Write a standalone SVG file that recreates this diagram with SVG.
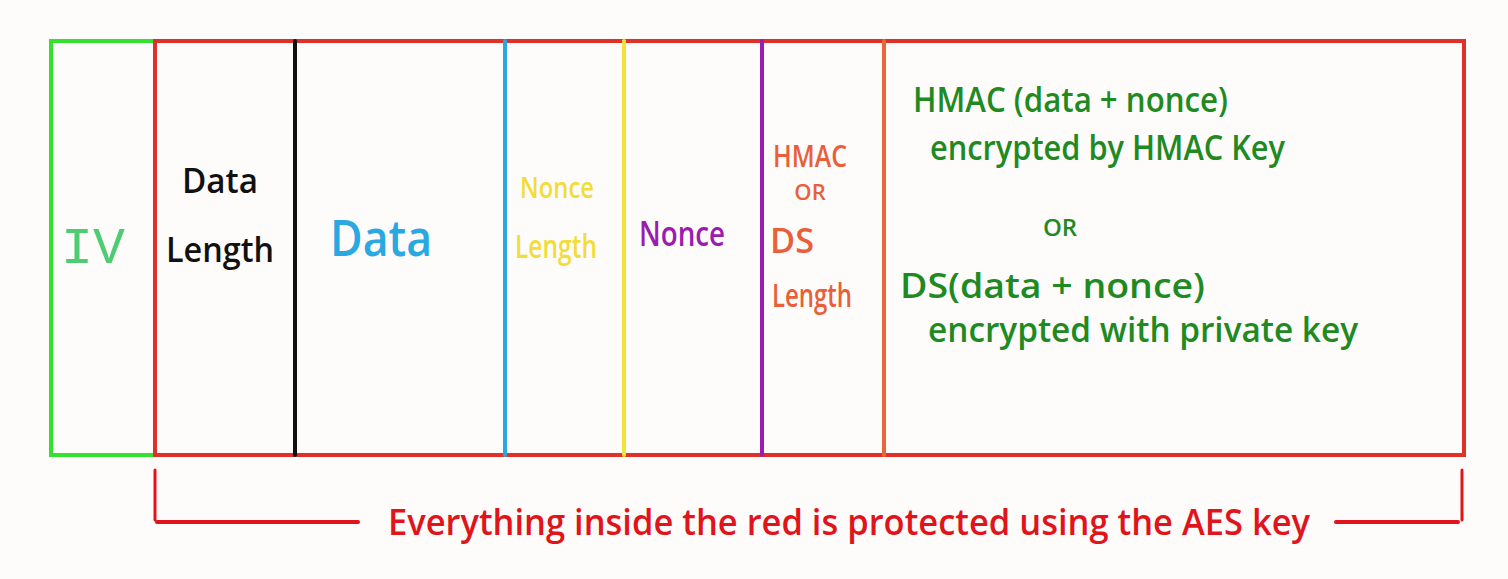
<svg xmlns="http://www.w3.org/2000/svg" width="1508" height="579" viewBox="0 0 1508 579">
<style>
  text { font-family: "Open Sans", "Liberation Sans", sans-serif; font-weight: 600; }
  .ln { stroke-width: 4; fill: none; stroke-linecap: round; }
  .c { text-anchor: middle; }
  .g { fill: #1f8a22; font-size: 34px; }
</style>
<rect x="0" y="0" width="1508" height="579" fill="#fefcfa"/>
<g id="iv">
  <rect class="ln" x="51" y="41" width="104" height="414" stroke="#36e02e"/>
  <text x="93" y="263" class="c" font-size="52" fill="#4dcc72" style="font-family:'Liberation Mono', monospace; font-weight:400" textLength="64" lengthAdjust="spacingAndGlyphs">IV</text>
</g>
<g id="protected">
  <rect class="ln" x="155" y="41" width="1309" height="414" stroke="#e0302a"/>
</g>
<g id="data-length">
  <line class="ln" x1="295" y1="41" x2="295" y2="455" stroke="#111"/>
  <text x="220" y="193" class="c" font-size="34" fill="#111" textLength="76" lengthAdjust="spacingAndGlyphs">Data</text>
  <text x="220" y="262" class="c" font-size="34" fill="#111" textLength="108" lengthAdjust="spacingAndGlyphs">Length</text>
</g>
<g id="data">
  <line class="ln" x1="505" y1="41" x2="505" y2="455" stroke="#2aa8e2"/>
  <text x="381" y="256" class="c" font-size="50" fill="#2aa8e2" textLength="102" lengthAdjust="spacingAndGlyphs">Data</text>
</g>
<g id="nonce-length">
  <line class="ln" x1="624" y1="41" x2="624" y2="455" stroke="#f2e23c"/>
  <text x="557" y="198" class="c" font-size="28" fill="#f2dc3a" textLength="74" lengthAdjust="spacingAndGlyphs">Nonce</text>
  <text x="556" y="258" class="c" font-size="32" fill="#f2dc3a" textLength="82" lengthAdjust="spacingAndGlyphs">Length</text>
</g>
<g id="nonce">
  <line class="ln" x1="762" y1="41" x2="762" y2="455" stroke="#9a1cb0"/>
  <text x="682" y="246" class="c" font-size="34" fill="#9a1cb0" textLength="86" lengthAdjust="spacingAndGlyphs">Nonce</text>
</g>
<g id="hmac-ds-length">
  <line class="ln" x1="884" y1="41" x2="884" y2="455" stroke="#e8683a"/>
  <text x="810" y="167" class="c" font-size="30" fill="#e8603a" textLength="74" lengthAdjust="spacingAndGlyphs">HMAC</text>
  <text x="810" y="200" class="c" font-size="22" fill="#e8603a">OR</text>
  <text x="792" y="253" class="c" font-size="34" fill="#e8603a" textLength="44" lengthAdjust="spacingAndGlyphs">DS</text>
  <text x="812" y="307" class="c" font-size="32" fill="#e8603a" textLength="80" lengthAdjust="spacingAndGlyphs">Length</text>
</g>
<g id="signature">
  <text x="913" y="112" class="g" textLength="315" lengthAdjust="spacingAndGlyphs">HMAC (data + nonce)</text>
  <text x="930" y="160" class="g" textLength="355" lengthAdjust="spacingAndGlyphs">encrypted by HMAC Key</text>
  <text x="1060" y="236" class="c" font-size="24" fill="#1f8a22">OR</text>
  <text x="900" y="298" class="g" textLength="305" lengthAdjust="spacingAndGlyphs">DS(data + nonce)</text>
  <text x="928" y="342" class="g" textLength="430" lengthAdjust="spacingAndGlyphs">encrypted with private key</text>
</g>
<g id="connectors">
  <line x1="155" y1="470" x2="155" y2="520" stroke="#e0141a" stroke-width="3" stroke-linecap="round"/>
  <line x1="157" y1="522" x2="358" y2="522" stroke="#e0141a" stroke-width="4" stroke-linecap="round"/>
  <line x1="1336" y1="522" x2="1458" y2="522" stroke="#e0141a" stroke-width="4" stroke-linecap="round"/>
  <line x1="1462" y1="470" x2="1462" y2="520" stroke="#e0141a" stroke-width="3" stroke-linecap="round"/>
</g>
<g id="caption">
  <text x="388" y="535" font-size="36" fill="#e0141a" textLength="922" lengthAdjust="spacingAndGlyphs">Everything inside the red is protected using the AES key</text>
</g>
</svg>
